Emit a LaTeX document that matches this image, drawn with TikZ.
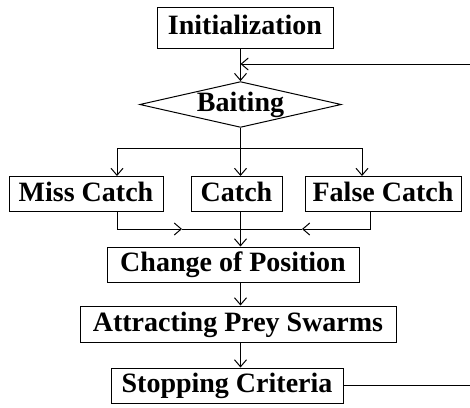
\documentclass[tikz,border=0pt]{standalone}
\usepackage{fontspec}
\setmainfont{Liberation Serif}
\usetikzlibrary{shapes.geometric,arrows.meta}

\begin{document}
\begin{tikzpicture}[
  x=1pt, y=-1pt,
  font=\fontsize{28}{32}\selectfont\bfseries,
  line width=1pt,
  block/.style={draw, inner sep=0pt, minimum height=35pt, text height=20pt, text depth=6pt},
  decide/.style={draw, diamond, aspect=4.4, inner sep=0pt, text height=20pt, text depth=6pt},
  arr/.style={-{Straight Barb[length=7pt,width=12pt]}},
]
  \useasboundingbox (0,0) rectangle (470,407);
  \node[block, minimum width=176pt, minimum height=41pt] (init) at (245,27.5) {Initialization};
  \node[decide, minimum width=200pt, minimum height=45pt] (bait) at (240.5,104.5) {Baiting};
  \node[block, minimum width=154pt] (miss) at (86,194) {Miss Catch};
  \node[block, minimum width=91pt] (catch) at (236.5,194) {Catch};
  \node[block, minimum width=156pt] (fcatch) at (383,194) {False Catch};
  \node[block, minimum width=252pt] (change) at (233,264.5) {Change of Position};
  \node[block, minimum width=316pt, minimum height=36pt] (attract) at (238,324) {Attracting Prey Swarms};
  \node[block, minimum width=232pt] (stop) at (227,385.5) {Stopping Criteria};

  \coordinate (fb) at (470,64);
  \coordinate (out) at (470,385.5);
  \coordinate (sl) at (117,148);
  \coordinate (sr) at (362,148);
  \coordinate (ml) at (182,229);
  \coordinate (mr) at (302,229);
  \coordinate (fx) at (370,229);

  \draw[arr] (init.south -| bait.north) -- (bait.north);
  \draw[arr] (fb) -- (fb -| bait.north);
  \draw (bait.south) -- (bait.south |- sl);
  \draw (sl) -- (sr);
  \draw[arr] (sl) -- (sl |- miss.north);
  \draw[arr] (bait.south |- sl) -- (bait.south |- catch.north);
  \draw[arr] (sr) -- (sr |- fcatch.north);
  \draw[arr] (miss.south -| sl) |- (ml);
  \draw[arr] (fcatch.south -| fx) |- (mr);
  \draw (ml) -- (mr);
  \draw[arr] (catch.south -| bait.south) -- (change.north -| bait.south);
  \draw[arr] (change.south -| bait.south) -- (attract.north -| bait.south);
  \draw[arr] (attract.south -| bait.south) -- (stop.north -| bait.south);
  \draw (stop.east) -- (out);
\end{tikzpicture}
\end{document}
